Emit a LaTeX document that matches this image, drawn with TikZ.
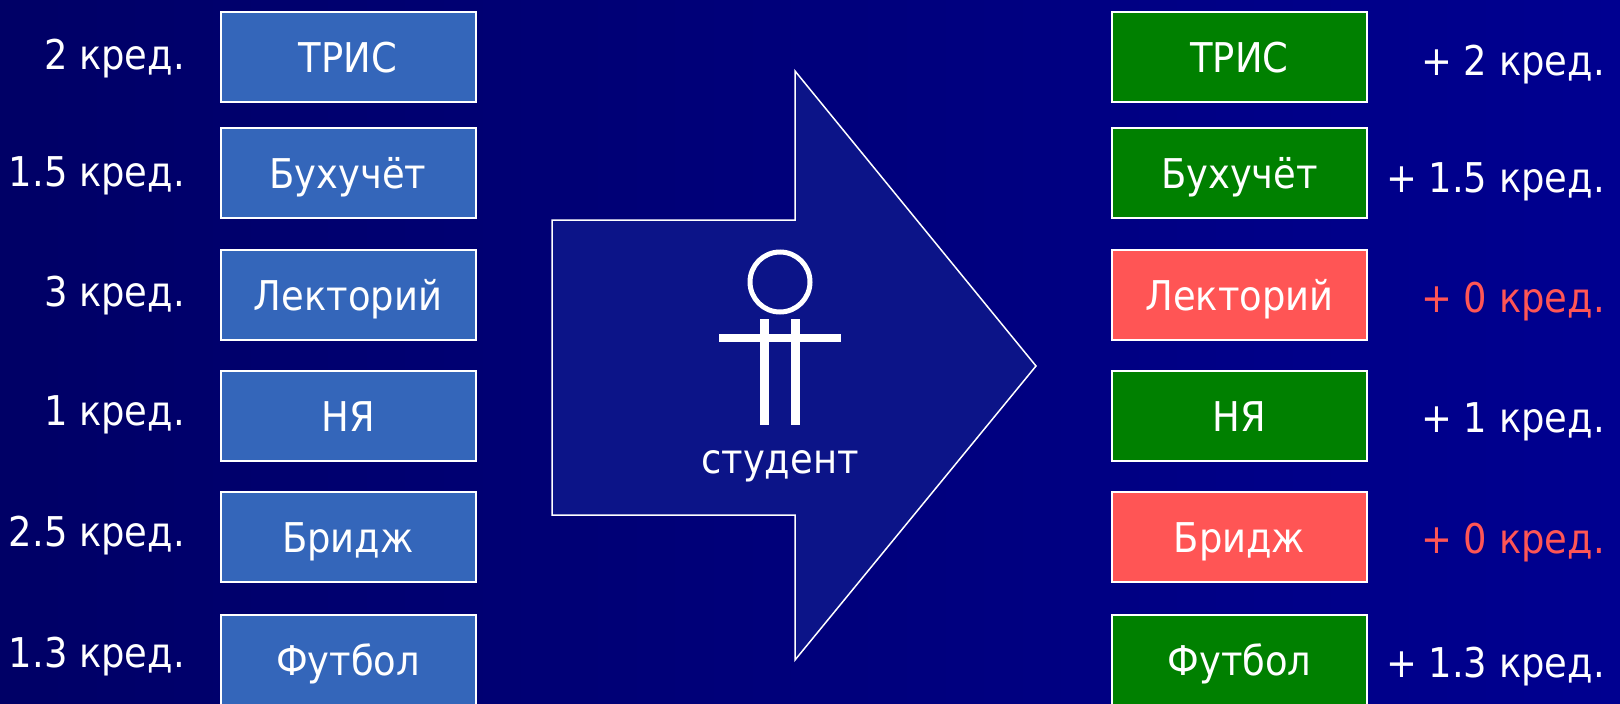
\documentclass[tikz,border=0pt]{standalone}
\usepackage{fontspec}
\setmainfont{DejaVu Sans Condensed}
\definecolor{bgL}{RGB}{0,0,102}
\definecolor{bgR}{RGB}{0,0,144}
\definecolor{arrowfill}{RGB}{12,20,136}
\definecolor{boxblue}{RGB}{52,102,186}
\definecolor{boxgreen}{RGB}{0,128,0}
\definecolor{boxred}{RGB}{255,85,85}
\tikzset{
  subj/.style={draw=white, line width=2pt, minimum width=255pt, minimum height=90pt,
    inner sep=0pt, text=white, font=\fontsize{41}{49}\selectfont, text height=30pt, text depth=0pt},
  lbox/.style={subj, fill=boxblue},
  gbox/.style={subj, fill=boxgreen},
  rbox/.style={subj, fill=boxred},
  cred/.style={anchor=base east, inner sep=0pt, text=white, font=\fontsize{41}{49}\selectfont},
  credred/.style={cred, text=boxred},
}
\begin{document}
\begin{tikzpicture}[x=1pt, y=-1pt]
\fill[left color=bgL, right color=bgR] (0,0) rectangle (1620,704);
\useasboundingbox (0,0) rectangle (1620,704);

% left column
\node[lbox] (l1) at (348,57) {ТРИС};
\node[lbox] (l2) at (348,173) {Бухучёт};
\node[lbox] (l3) at (348,295) {Лекторий};
\node[lbox] (l4) at (348,416) {НЯ};
\node[lbox] (l5) at (348,537) {Бридж};
\node[lbox] (l6) at (348,660) {Футбол};

\node[cred] (c1) at (185,69) {2 кред.};
\node[cred] (c2) at (185,186) {1.5 кред.};
\node[cred] (c3) at (185,306) {3 кред.};
\node[cred] (c4) at (185,425) {1 кред.};
\node[cred] (c5) at (185,546) {2.5 кред.};
\node[cred] (c6) at (185,667) {1.3 кред.};

% arrow
\draw[white, line width=1.5pt, fill=arrowfill, line join=miter]
  (552,220) -- (795,220) -- (795,71) -- (1036,366) -- (795,660) -- (795,515) -- (552,515) -- cycle;

% student figure
\draw[white, line width=5pt] (780,282) circle[radius=30];
\fill[white] (719,334) rectangle (841,342);
\fill[white] (760,319) rectangle (769,425);
\fill[white] (791,319) rectangle (800,425);
\node[anchor=base, inner sep=0pt, text=white, font=\fontsize{41}{49}\selectfont] (st) at (780,473) {студент};

% right column
\node[gbox] (r1) at (1239.5,57) {ТРИС};
\node[gbox] (r2) at (1239.5,173) {Бухучёт};
\node[rbox] (r3) at (1239.5,295) {Лекторий};
\node[gbox] (r4) at (1239.5,416) {НЯ};
\node[rbox] (r5) at (1239.5,537) {Бридж};
\node[gbox] (r6) at (1239.5,660) {Футбол};

\node[cred] (p1) at (1605,75) {+ 2 кред.};
\node[cred] (p2) at (1605,192) {+ 1.5 кред.};
\node[credred] (p3) at (1605,312) {+ 0 кред.};
\node[cred] (p4) at (1605,432) {+ 1 кред.};
\node[credred] (p5) at (1605,553) {+ 0 кред.};
\node[cred] (p6) at (1605,677) {+ 1.3 кред.};
\end{tikzpicture}
\end{document}
